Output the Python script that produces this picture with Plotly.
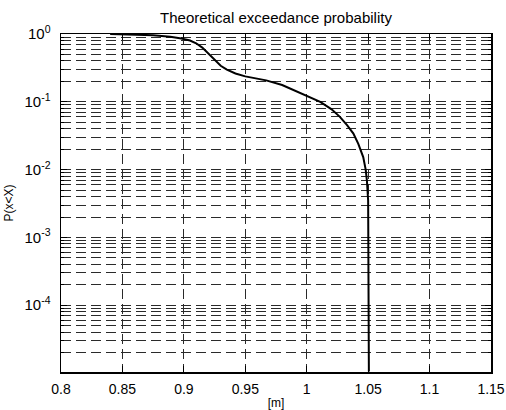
import plotly.graph_objects as go

# ---- data ----
x_m = [0.840, 0.860, 0.875, 0.889, 0.898, 0.905, 0.910, 0.915, 0.920, 0.925,
       0.930, 0.935, 0.942, 0.950, 0.958, 0.967, 0.980, 0.992, 1.002, 1.011,
       1.020, 1.027, 1.033, 1.038, 1.042, 1.046, 1.048, 1.049, 1.050, 1.0503,
       1.0506]
p_exceed = [0.999, 0.985, 0.96, 0.91, 0.86, 0.80, 0.73, 0.63, 0.51, 0.41,
            0.34, 0.298, 0.262, 0.237, 0.222, 0.207, 0.177, 0.143, 0.12, 0.10,
            0.078, 0.06, 0.045, 0.034, 0.024, 0.0153, 0.010, 0.0069, 0.0035, 0.0004,
            0.0000105]

y_major_vals = [1e-4, 1e-3, 1e-2, 1e-1, 1e0]
y_major_text = ["10<sup>-4</sup>", "10<sup>-3</sup>", "10<sup>-2</sup>",
                "10<sup>-1</sup>", "10<sup>0</sup>"]
decades = [-5, -4, -3, -2, -1]
mantissas = [2, 3, 4, 5, 6, 7, 8, 9]
y_minor_vals = [m * 10 ** d for d in decades for m in mantissas]

FONT = "Liberation Sans, Arial, sans-serif"
GRID = "#2a2a2a"
DASH = "10px,5px"

fig = go.Figure()
fig.add_trace(go.Scatter(x=x_m, y=p_exceed, mode="lines",
                         line=dict(color="black", width=2), showlegend=False,
                         hoverinfo="skip"))

fig.update_layout(
    width=506, height=410,
    margin=dict(l=61, r=15, t=34, b=38, autoexpand=False),
    paper_bgcolor="white", plot_bgcolor="white",
    font=dict(family=FONT, size=14, color="black"),
    title=dict(text="Theoretical exceedance probability",
               x=0.5, xref="paper", xanchor="center",
               y=1, yref="paper", yanchor="bottom", pad=dict(b=11),
               font=dict(family=FONT, size=15, color="black"),
               automargin=False),
)

fig.update_xaxes(
    range=[0.8, 1.15], tick0=0.8, dtick=0.05, automargin=False,
    showline=True, linecolor="black", linewidth=1.5, mirror="ticks",
    ticks="inside", ticklen=6, tickcolor="black", tickwidth=1,
    showgrid=True, gridcolor=GRID, gridwidth=1, griddash=DASH,
    zeroline=False, ticklabelstandoff=4,
    tickfont=dict(family=FONT, size=14),
    title=dict(text="[m]", font=dict(family=FONT, size=12), standoff=4),
)

fig.update_yaxes(
    type="log", range=[-4.985, 0], automargin=False,
    tickmode="array", tickvals=y_major_vals, ticktext=y_major_text,
    showline=True, linecolor="black", linewidth=1.5, mirror="ticks",
    ticks="inside", ticklen=6, tickcolor="black", tickwidth=1,
    showgrid=True, gridcolor=GRID, gridwidth=1, griddash=DASH,
    zeroline=False, ticklabelstandoff=6,
    tickfont=dict(family=FONT, size=15),
    minor=dict(tickmode="array", tickvals=y_minor_vals, ticks="inside",
               ticklen=3, tickcolor="black", showgrid=True,
               gridcolor=GRID, gridwidth=1, griddash=DASH),
    title=dict(text="P(x<X)", font=dict(family=FONT, size=12), standoff=8),
)

fig.write_html(
    "out.html",
    config={"displayModeBar": False, "staticPlot": True},
    post_script="document.body.style.margin='0';document.body.style.overflow='hidden';",
)
